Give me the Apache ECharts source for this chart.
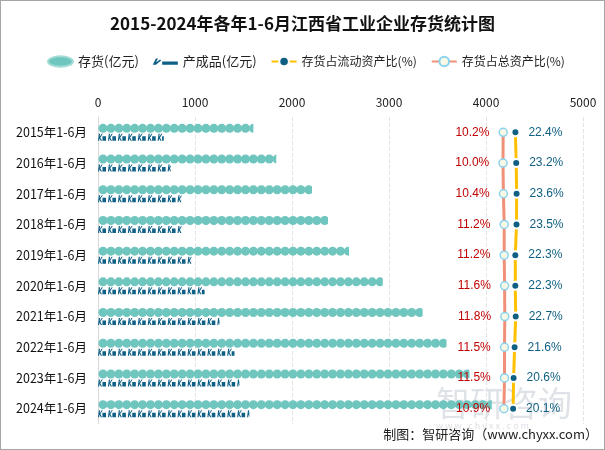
<!DOCTYPE html>
<html><head><meta charset="utf-8">
<script src="https://cdn.jsdelivr.net/npm/echarts@6/dist/echarts.min.js"></script>
<style>html,body{margin:0;padding:0;background:#fff}#c{width:605px;height:450px;box-sizing:border-box;border:1px solid #a6a6a6}</style>
</head><body><div id="c"></div>
<script>
const categories = ['2015年1-6月','2016年1-6月','2017年1-6月','2018年1-6月','2019年1-6月','2020年1-6月','2021年1-6月','2022年1-6月','2023年1-6月','2024年1-6月'];
const inventory = [1602, 1838, 2207, 2372, 2587, 2936, 3347, 3593, 3830, 4060];
const products = [678, 750, 862, 862, 965, 1099, 1253, 1407, 1458, 1561];
const currentRatio = [22.4, 23.2, 23.6, 23.5, 22.3, 22.3, 22.7, 21.6, 20.6, 20.1];
const totalRatio = [10.2, 10.0, 10.4, 11.2, 11.2, 11.6, 11.8, 11.5, 11.5, 10.9];
const seriesNames = ['存货(亿元)','产成品(亿元)','存货占流动资产比(%)','存货占总资产比(%)'];

const FONT = '"Noto Sans CJK SC", sans-serif';
const chart = echarts.init(document.getElementById('c'), null, {renderer:'canvas'});
const prodIcon = 'path://M0,7 L1,0 L2.4,0 L1.9,3 L4.2,0 L5.4,0 L2.6,3.8 L4.6,7 L3.2,7 L1.6,4.6 L1.3,7 Z M5,2.5 L9,2.5 L9,7 L5,7 Z';
chart.setOption({
  animation:false,
  textStyle:{fontFamily:FONT},
  title:{text:'2015-2024年各年1-6月江西省工业企业存货统计图',left:'center',top:9,
    textStyle:{fontSize:17,fontWeight:'bold',color:'#111',fontFamily:FONT}},
  legend:{left:41,top:49,itemGap:14,itemWidth:25,itemHeight:12,
    textStyle:{fontSize:12,color:'#222',fontFamily:FONT},
    data:[
      {name:seriesNames[0],icon:'path://M0,5 A12,5 0 1,0 24,5 A12,5 0 1,0 0,5 Z',textStyle:{fontSize:13}},
      {name:seriesNames[1],icon:'path://M0,6 L3,0 L5,0 L3,4 L7,1 L8,2 L3,6 Z M9,3 L24,3 L24,6 L9,6 Z',textStyle:{fontSize:13}},
      {name:seriesNames[2]},
      {name:seriesNames[3]}
    ]},
  grid:[
    {left:97,right:21,top:116,height:307},
    {left:492,width:100,top:116,height:307}
  ],
  xAxis:[
    {gridIndex:0,type:'value',position:'top',min:0,max:5000,interval:1000,
     axisLine:{show:false},axisTick:{show:false},
     axisLabel:{fontSize:12,color:'#222',margin:9,fontFamily:FONT,formatter:v=>String(v)},
     splitLine:{show:true,lineStyle:{color:'#e3e3e3',type:'dashed'}}},
    {gridIndex:1,type:'value',min:0,max:100,show:false}
  ],
  yAxis:[
    {gridIndex:0,type:'category',data:categories,inverse:true,
     axisLine:{show:true,lineStyle:{color:'#d9d9d9'}},axisTick:{show:false},
     axisLabel:{fontSize:12.5,color:'#111',margin:11,fontFamily:FONT}},
    {gridIndex:1,type:'category',data:categories,inverse:true,show:false}
  ],
  series:[
    {name:seriesNames[0],type:'pictorialBar',xAxisIndex:0,yAxisIndex:0,data:inventory,
     symbol:'circle',symbolSize:[9,9],symbolRepeat:true,symbolClip:true,symbolMargin:-1,
     symbolOffset:[0,-4],barWidth:10,barGap:'-100%',z:3,
     itemStyle:{color:'#6fc6bf',borderColor:'#a3dcd6',borderWidth:1}},
    {name:seriesNames[1],type:'pictorialBar',xAxisIndex:0,yAxisIndex:0,data:products,
     symbol:prodIcon,symbolSize:[8,7],symbolRepeat:true,symbolClip:true,symbolMargin:1,
     symbolOffset:[0,5],barWidth:10,barGap:'-100%',z:3,
     itemStyle:{color:'#0d5f86'}},
    {name:seriesNames[2],type:'line',xAxisIndex:1,yAxisIndex:1,data:currentRatio,
     symbol:'circle',symbolSize:8,z:4,
     lineStyle:{color:'#ffc000',width:3},
     itemStyle:{color:'#0f5f82',borderColor:'#fff',borderWidth:2},
     label:{show:true,position:'right',distance:8,formatter:p=>p.value.toFixed(1)+'%',
       color:'#0f5f82',fontSize:12,fontFamily:'"Liberation Sans", sans-serif'}},
    {name:seriesNames[3],type:'line',xAxisIndex:1,yAxisIndex:1,data:totalRatio,
     symbol:'circle',symbolSize:8,z:5,
     lineStyle:{color:'#ef9077',width:3},
     itemStyle:{color:'#f8f8e4',borderColor:'#8ad3ef',borderWidth:1.5},
     label:{show:true,position:'left',distance:9,formatter:p=>p.value.toFixed(1)+'%',
       color:'#c00000',fontSize:12,fontFamily:'"Liberation Sans", sans-serif'}}
  ],
  graphic:[
    {type:'text',left:435,top:385,z:0,style:{text:'智研咨询',fontSize:34,fill:'rgba(140,150,170,0.28)',fontFamily:FONT}},
    {type:'text',left:435,top:420,z:0,style:{text:'w w w . c h y x x . c o m',fontSize:9,fill:'rgba(140,150,170,0.3)',fontFamily:FONT}},
    {type:'text',right:6,top:427,z:10,style:{text:'制图：智研咨询（www.chyxx.com）',fontSize:13,fill:'#222',fontFamily:FONT}}
  ]
});
</script></body></html>
